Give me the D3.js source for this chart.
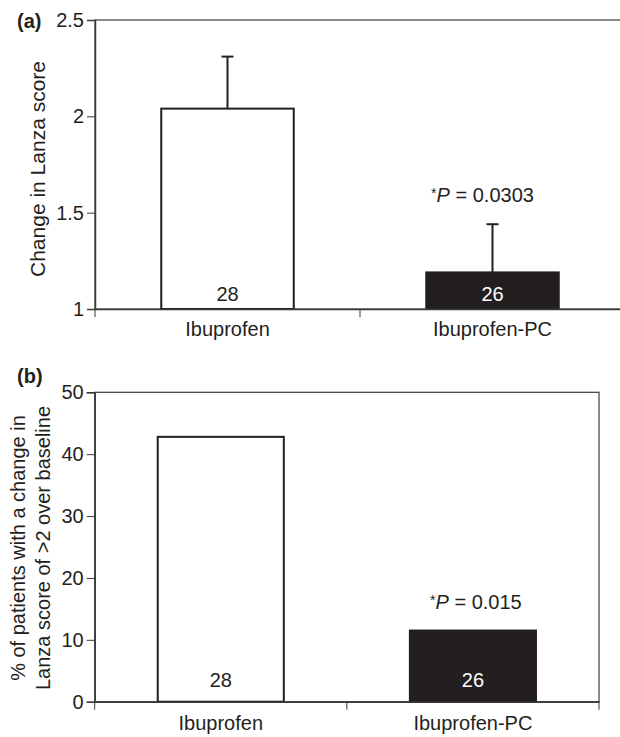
<!DOCTYPE html>
<html>
<head>
<meta charset="utf-8">
<script src="https://cdnjs.cloudflare.com/ajax/libs/d3/7.8.5/d3.min.js"></script>
<style>
  body { margin: 0; background: #fff; }
  svg { display: block; font-family: "Liberation Sans", Arial, sans-serif; }
</style>
</head>
<body>
<div id="chart"></div>
<script>
// data
var categories = ['Ibuprofen', 'Ibuprofen-PC'];
var patientCounts = [28, 26];
var lanzaChange = [2.04, 1.19];
var lanzaErrorTop = [2.31, 1.44];
var lanzaTicks = [1, 1.5, 2, 2.5];
var pctOverBaseline = [42.8, 11.5];
var pctTicks = [0, 10, 20, 30, 40, 50];
var pValues = ['0.0303', '0.015'];

var ink = '#231f20';
var fs = 20;
var svg = d3.select('#chart').append('svg')
	.attr('width', 620).attr('height', 737);

function drawPanel(p) {
	var g = svg.append('g');
	var x = d3.scaleBand().domain(categories).range(p.xRange)
		.paddingInner(0.5).paddingOuter(0.25);
	var y = d3.scaleLinear().domain(p.yDomain).range(p.yRange);

	// frame
	g.append('rect')
		.attr('x', p.xRange[0]).attr('y', p.yRange[1])
		.attr('width', p.xRange[1] - p.xRange[0])
		.attr('height', p.yRange[0] - p.yRange[1])
		.attr('fill', 'none').attr('stroke', '#3a3a3a').attr('stroke-width', 1.2);

	// bars
	g.selectAll('rect.bar').data(p.values).enter()
		.append('rect')
		.attr('class', 'bar')
		.attr('x', function (d, i) { return x(categories[i]); })
		.attr('y', function (d) { return y(d); })
		.attr('width', x.bandwidth())
		.attr('height', function (d) { return y(p.yDomain[0]) - y(d); })
		.attr('fill', function (d, i) { return i === 0 ? '#fff' : ink; })
		.attr('stroke', ink).attr('stroke-width', 2);

	// error bars (upper only)
	if (p.errors) {
		p.errors.forEach(function (e, i) {
			var cx = x(categories[i]) + x.bandwidth() / 2;
			g.append('line')
				.attr('x1', cx).attr('x2', cx)
				.attr('y1', y(p.values[i])).attr('y2', y(e))
				.attr('stroke', ink).attr('stroke-width', 2);
			g.append('line')
				.attr('x1', cx - 6).attr('x2', cx + 6)
				.attr('y1', y(e)).attr('y2', y(e))
				.attr('stroke', ink).attr('stroke-width', 2);
		});
	}

	// y axis
	var yAxis = g.append('g')
		.attr('transform', 'translate(' + p.xRange[0] + ',0)')
		.call(d3.axisLeft(y).tickValues(p.ticks).tickSize(8).tickPadding(3)
			.tickFormat(d3.format('~g')));
	yAxis.select('.domain').attr('stroke', '#3a3a3a').attr('stroke-width', 1.5);
	yAxis.selectAll('.tick line').attr('stroke', '#3a3a3a');
	yAxis.attr('font-size', null).attr('font-family', null);
	yAxis.selectAll('text').attr('font-size', fs).attr('fill', ink);

	// x axis: labels at centres, ticks at band edges
	var xAxis = g.append('g')
		.attr('transform', 'translate(0,' + p.yRange[0] + ')')
		.call(d3.axisBottom(x).tickSize(0).tickPadding(p.labelPad));
	xAxis.select('.domain').attr('stroke', '#3a3a3a').attr('stroke-width', 1.5);
	xAxis.attr('font-size', null).attr('font-family', null);
	xAxis.selectAll('text').attr('font-size', fs).attr('fill', ink);
	var edges = [p.xRange[0], x(categories[1]) - x.step() * x.paddingInner() / 2, p.xRange[1]];
	g.selectAll('line.edge').data(edges).enter()
		.append('line')
		.attr('x1', function (d) { return d; }).attr('x2', function (d) { return d; })
		.attr('y1', p.yRange[0]).attr('y2', p.yRange[0] + 8)
		.attr('stroke', '#3a3a3a').attr('stroke-width', 1);

	// patient counts inside bars
	g.selectAll('text.count').data(patientCounts).enter()
		.append('text')
		.attr('x', function (d, i) { return x(categories[i]) + x.bandwidth() / 2; })
		.attr('y', y(p.yDomain[0]) - p.countLift)
		.attr('text-anchor', 'middle').attr('font-size', fs)
		.attr('fill', function (d, i) { return i === 0 ? ink : '#fff'; })
		.text(function (d) { return d; });

	// significance label
	var topVal = p.errors ? p.errors[1] : p.values[1];
	var pt = g.append('text')
		.attr('x', x(categories[1]) + x.bandwidth() / 2 + p.pShift)
		.attr('y', y(topVal) - 22)
		.attr('text-anchor', 'middle').attr('font-size', fs).attr('fill', ink);
	pt.append('tspan').attr('font-size', 14).attr('dy', -4).text('*');
	pt.append('tspan').attr('font-style', 'italic').attr('dy', 4).text('P');
	pt.append('tspan').text(' = ' + p.pValue);

	// panel letter
	svg.append('text')
		.attr('x', 17).attr('y', p.letterY)
		.attr('font-size', fs).attr('font-weight', 'bold').attr('fill', ink)
		.text(p.letter);

	// y title
	var t = svg.append('text')
		.attr('transform', 'translate(' + p.titleX + ',' + p.titleY + ') rotate(-90)')
		.attr('text-anchor', 'middle').attr('font-size', p.titleSize).attr('fill', ink);
	p.title.forEach(function (line, i) {
		t.append('tspan').attr('x', 0).attr('dy', i === 0 ? 0 : 25).text(line);
	});
}

drawPanel({
	letter: '(a)', letterY: 28,
	xRange: [95, 625], yRange: [309, 20], yDomain: [1, 2.5],
	ticks: lanzaTicks, values: lanzaChange, errors: lanzaErrorTop,
	labelPad: 13, countLift: 8, pShift: -10, pValue: pValues[0],
	title: ['Change in Lanza score'], titleX: 45, titleY: 169, titleSize: 21
});

drawPanel({
	letter: '(b)', letterY: 383,
	xRange: [94.7, 599], yRange: [701.7, 392.3], yDomain: [0, 50],
	ticks: pctTicks, values: pctOverBaseline, errors: null,
	labelPad: 14, countLift: 15, pShift: 3, pValue: pValues[1],
	title: ['% of patients with a change in', 'Lanza score of >2 over baseline'],
	titleX: 25, titleY: 548, titleSize: 20
});
</script>
</body>
</html>
